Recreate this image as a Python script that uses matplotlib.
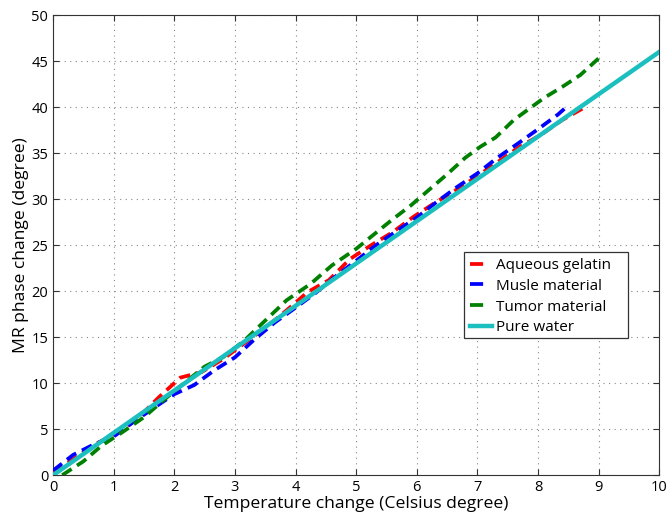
import numpy as np
import matplotlib
matplotlib.use('Agg')
import matplotlib.pyplot as plt
from matplotlib.lines import Line2D
from matplotlib.patches import Rectangle

plt.rcParams['font.family'] = ['Open Sans', 'DejaVu Sans']

# aqueous gelatin
gel_t = [0.0, 0.35, 0.7, 1.05, 1.4, 1.75, 2.1, 2.45, 2.8, 3.15, 3.5, 3.85, 4.2,
         4.55, 4.9, 5.25, 5.6, 5.95, 6.3, 6.65, 7.0, 7.35, 7.7, 8.05, 8.4, 8.75]
gel_p = [0.3, 1.8, 3.4, 4.5, 6.2, 8.5, 10.6, 11.2, 12.6, 14.3, 16.0, 17.9, 19.9,
         21.2, 23.5, 25.0, 26.4, 28.1, 29.6, 31.0, 32.5, 34.1, 35.7, 37.0, 38.6, 39.9]

# muscle material
mus_t = [0.0, 0.33, 0.66, 1.0, 1.33, 1.66, 2.0, 2.33, 2.66, 3.0, 3.33, 3.66, 4.0,
         4.33, 4.66, 5.0, 5.33, 5.66, 6.0, 6.33, 6.66, 7.0, 7.33, 7.66, 8.0, 8.33, 8.5]
mus_p = [0.5, 2.2, 3.3, 4.2, 5.8, 7.3, 8.8, 9.8, 11.4, 12.8, 14.8, 16.6, 18.2,
         19.8, 21.6, 23.3, 25.0, 26.5, 28.0, 29.7, 31.3, 32.8, 34.5, 36.0, 37.6, 39.2, 40.2]

# tumor material
tum_t = [0.15, 0.5, 0.8, 1.15, 1.5, 1.85, 2.2, 2.5, 2.8, 3.15, 3.5, 3.85, 4.25,
         4.6, 5.0, 5.3, 5.6, 5.9, 6.2, 6.5, 6.8, 7.05, 7.3, 7.6, 7.85, 8.1, 8.4, 8.7, 9.0]
tum_p = [0.0, 1.5, 3.2, 4.7, 6.3, 8.3, 10.2, 11.8, 12.8, 14.6, 16.8, 19.0, 20.8,
         22.8, 24.6, 26.2, 27.8, 29.3, 31.0, 32.7, 34.5, 35.7, 36.7, 38.6, 39.8, 41.0, 42.2, 43.5, 45.3]

# pure water
wat_t = [0, 10]
wat_p = [0, 46.0]

labels = ['Aqueous gelatin', 'Musle material', 'Tumor material', 'Pure water']
cols = ['#FF0000', '#0000FF', '#008000', '#1CBFBF']

fig = plt.figure(figsize=(6.72, 5.21), dpi=100)
ax = fig.add_axes([0.079, 0.088, 0.902, 0.883])

dash = (3.0, 1.7)
lw = 2.7
ax.plot(gel_t, gel_p, color=cols[0], lw=lw, dashes=dash, zorder=3)
ax.plot(mus_t, mus_p, color=cols[1], lw=lw, dashes=dash, zorder=3)
ax.plot(tum_t, tum_p, color=cols[2], lw=lw, dashes=dash, zorder=3)
ax.plot(wat_t, wat_p, '-', color=cols[3], lw=3.2, zorder=4)

ax.set_xlim(0, 10)
ax.set_ylim(0, 50)
ax.set_xticks(np.arange(0, 11, 1))
ax.set_yticks(np.arange(0, 51, 5))
ax.tick_params(direction='in', top=True, right=True, labelsize=10.5, length=4, color='#333333')
ax.grid(True, linestyle=(0, (1, 4)), color='#888888', lw=0.8)
for s in ax.spines.values():
    s.set_color('#333333')
ax.set_xlabel('Temperature change (Celsius degree)', fontsize=12.6, labelpad=1)
ax.set_ylabel('MR phase change (degree)', fontsize=12.6, labelpad=2)

# legend: single dash samples like the original
handles = [Line2D([], [], color=c, lw=2.7, dashes=(3.5, 10)) for c in cols[:3]]
handles.append(Line2D([], [], color=cols[3], lw=3.2))
ax.add_patch(Rectangle((0.678, 0.298), 0.271, 0.187, transform=ax.transAxes,
                       facecolor='white', edgecolor='#333333', lw=0.9, zorder=5))
leg = ax.legend(handles, labels, loc='upper left', bbox_to_anchor=(0.688, 0.472),
                fontsize=11, frameon=False, handlelength=1.45, handletextpad=0.25,
                borderpad=0.0, borderaxespad=0.0, labelspacing=0.38)
leg.set_zorder(6)

plt.savefig('out.png', dpi=100)
